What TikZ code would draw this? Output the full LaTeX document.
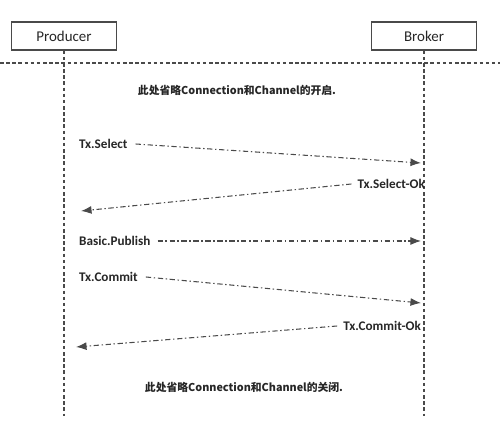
\documentclass[tikz,border=0pt]{standalone}
\usepackage{fontspec}
\setmainfont{Carlito}
\newfontfamily\cjk{Noto Sans CJK SC}
\usetikzlibrary{arrows.meta,positioning}
\definecolor{LineGrey}{HTML}{4A4A4A}
\definecolor{TextGrey}{HTML}{262626}
\tikzset{
  actor/.style={draw=LineGrey,thick,minimum width=2.1cm,minimum height=0.56cm,text=TextGrey,font=\fontsize{8.5}{10}\selectfont},
  lifeline/.style={LineGrey,semithick,dash pattern=on 2pt off 1.5pt},
  msg/.style={inner sep=1pt,text=TextGrey,font=\bfseries\fontsize{7.5}{9}\selectfont},
  note/.style={inner sep=1pt,text=TextGrey,font=\cjk\bfseries\fontsize{6.15}{7.5}\selectfont},
  call/.style={LineGrey,semithick,dash pattern=on 3pt off 1.5pt on 0.8pt off 1.5pt,-{Latex[length=6pt,width=4.5pt]}}
}

\begin{document}
\begin{tikzpicture}[x=0.02cm,y=-0.02cm]
  \useasboundingbox (0,0) rectangle (500,445);
  \node[actor] (prod) at (64,36) {Producer};
  \node[actor] (brok) at (424,36) {Broker};
  \coordinate (prodEnd) at (64,416);
  \coordinate (brokEnd) at (424,416);
  \draw[lifeline] (prod.south) -- (prodEnd);
  \draw[lifeline] (brok.south) -- (brokEnd);
  % separator under the actors
  \coordinate (sepL) at (0,63);
  \coordinate (sepR) at (500,63);
  \draw[lifeline] (sepL) -- (sepR);
  \node[note] (open) at (237,90) {此处省略Connection和Channel的开启.};
  % messages
  \node[msg,anchor=west] (sel) at (77,144) {Tx.Select};
  \coordinate (selEnd) at (421,163);
  \draw[call] (sel.east) ++(6,0) -- (selEnd);
  \node[msg,anchor=east] (selok) at (427,184) {Tx.Select-Ok};
  \coordinate (selokEnd) at (81,211);
  \draw[call] (selok.west) ++(-4,0) -- (selokEnd);
  \node[msg,anchor=west] (pub) at (77,241) {Basic.Publish};
  \coordinate (pubEnd) at (421,241);
  \draw[call] (pub.east) ++(5,0) -- (pubEnd);
  \node[msg,anchor=west] (com) at (77,277) {Tx.Commit};
  \coordinate (comEnd) at (421,303);
  \draw[call] (com.east) ++(6,0) -- (comEnd);
  \node[msg,anchor=east] (comok) at (423,326) {Tx.Commit-Ok};
  \coordinate (comokEnd) at (76,347);
  \draw[call] (comok.west) ++(-4,0) -- (comokEnd);
  \node[note] (close) at (244,387) {此处省略Connection和Channel的关闭.};
\end{tikzpicture}
\end{document}
